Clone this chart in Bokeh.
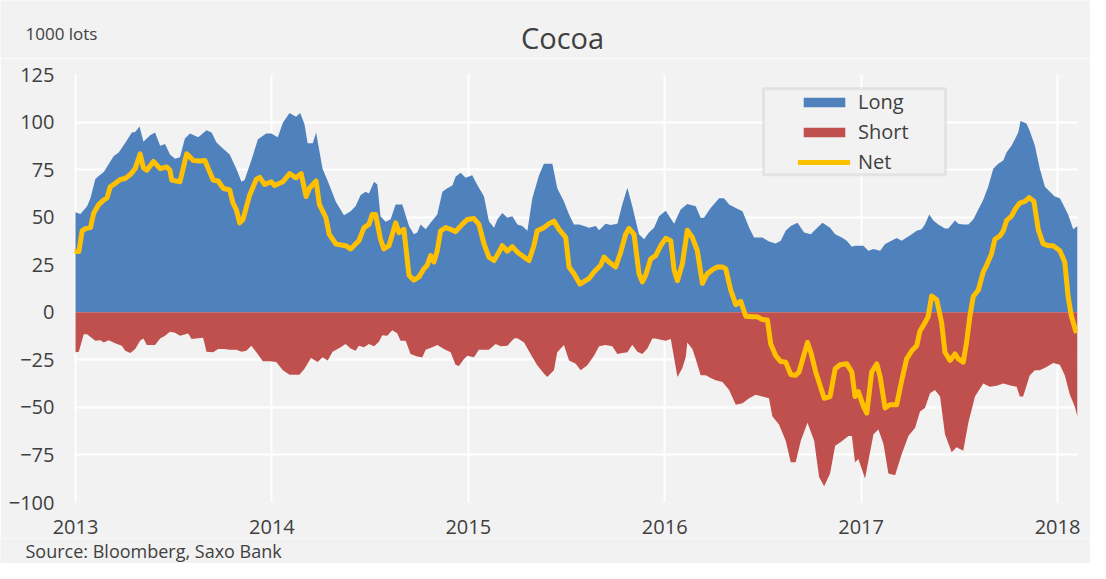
import numpy as np
from bokeh.plotting import figure
from bokeh.layouts import column
from bokeh.models import Range1d, Legend, LegendItem, BoxAnnotation, FixedTicker
from bokeh.core.properties import value
from bokeh.embed import file_html
from bokeh.resources import INLINE

# ---- data (years after 2013.0, values in 1000 lots) ----
long_t = [0.000, 0.025, 0.059, 0.076, 0.101, 0.118, 0.144, 0.194, 0.220, 0.253,
          0.287, 0.304, 0.326, 0.346, 0.380, 0.405, 0.431, 0.456, 0.481, 0.507,
          0.532, 0.557, 0.583, 0.625, 0.667, 0.693, 0.718, 0.752, 0.785, 0.819,
          0.845, 0.861, 0.895, 0.929, 0.971, 0.997, 1.030, 1.056, 1.090, 1.123,
          1.144, 1.166, 1.182, 1.208, 1.225, 1.258, 1.292, 1.326,
          1.367, 1.401, 1.426, 1.452, 1.477, 1.494, 1.520, 1.537, 1.553, 1.579,
          1.604, 1.630, 1.664, 1.698, 1.723, 1.740, 1.757, 1.783, 1.808, 1.842,
          1.868, 1.893, 1.919, 1.935, 1.961, 1.986, 2.020, 2.046, 2.080, 2.105,
          2.131, 2.148, 2.173, 2.199, 2.224, 2.250, 2.275, 2.301, 2.326, 2.360,
          2.385, 2.428, 2.453, 2.487, 2.513, 2.538, 2.564, 2.589,
          2.615, 2.649, 2.666, 2.699, 2.725, 2.759, 2.784, 2.810, 2.835, 2.869,
          2.895, 2.920, 2.946, 2.971, 3.005, 3.048, 3.081, 3.115, 3.158, 3.183,
          3.200, 3.234, 3.277, 3.302, 3.328, 3.362, 3.396, 3.430, 3.455, 3.497,
          3.531, 3.565, 3.591, 3.616, 3.642, 3.676, 3.710, 3.744, 3.769, 3.803,
          3.842, 3.868, 3.902, 3.927, 3.953, 3.969, 4.012, 4.037, 4.063, 4.097,
          4.122, 4.147, 4.181, 4.207, 4.232, 4.258, 4.283, 4.308, 4.325, 4.347,
          4.368, 4.393, 4.427, 4.444, 4.461, 4.478, 4.495, 4.520, 4.546, 4.571,
          4.588, 4.622, 4.647, 4.673, 4.698, 4.724, 4.741, 4.766, 4.783, 4.800,
          4.812, 4.842, 4.859, 4.885, 4.910, 4.936, 4.961, 4.986, 5.012, 5.029,
          5.054, 5.080, 5.102]
long_v = [52.6, 51.7, 55.7, 60, 70, 71.7, 73.8, 82, 84, 89,
          94.5, 94.8, 97.6, 89.6, 93, 94.5, 87.6, 88.4, 83, 80.7,
          81.5, 91.4, 94, 92, 95.7, 94.5, 89.3, 86, 83, 75.5,
          68.6, 69.5, 79.8, 91, 94, 94, 92, 99.7, 104.8, 102.8,
          104.8, 98.8, 88.8, 88.8, 94.5, 75.5, 67, 58,
          51, 53.1, 55.7, 61.7, 63.4, 62.5, 68.6, 67.2, 50.5, 47.6,
          48.8, 56.6, 56.6, 45.3, 41, 41.9, 46.2, 43.6, 47, 51.4,
          63.4, 65.2, 66.6, 71.2, 73.4, 70.7, 72, 66.9, 60.9, 47.9,
          44.5, 48.8, 52.2, 49.7, 50.5, 46.2, 45.3, 42.8, 60, 72,
          78.1, 78.1, 65.2, 58.3, 51.4, 46.2, 46.2, 45.3,
          44.5, 45.3, 43.1, 46.6, 45.9, 46.6, 56.6, 65.5, 55.7, 41,
          38.4, 41.9, 44.5, 50.5, 53.4, 46.6, 54, 56.9, 55.7, 49.7,
          49.7, 54.8, 60, 60, 56.6, 54.8, 53.1, 44.5, 39.3, 39.3,
          37.2, 36.2, 37.6, 42.8, 45.3, 47, 41.9, 41, 43.6, 47,
          44.5, 41, 39.3, 37.6, 34.5, 35, 35, 32.4, 33.3, 32.4,
          35.9, 37.2, 39, 37.6, 39.3, 41, 42.8, 43.6, 46.2, 51.4,
          48.3, 46.2, 44, 44, 46.2, 48.3, 46.6, 46.2, 46.2, 48.8,
          52.2, 59.1, 66, 75.5, 78.1, 79.8, 84.1, 87.6, 91, 94.5,
          100.5, 99.3, 95.3, 87.6, 75.5, 66, 63.4, 60.9, 60, 56.6,
          51.4, 43.6, 45.3]

short_t = [0.000, 0.017, 0.042, 0.059, 0.101, 0.127, 0.144, 0.169, 0.211, 0.236,
           0.253, 0.279, 0.304, 0.329, 0.346, 0.363, 0.405, 0.431, 0.456, 0.481,
           0.507, 0.532, 0.574, 0.591, 0.625, 0.650, 0.667, 0.701, 0.726, 0.760,
           0.785, 0.819, 0.845, 0.870, 0.895, 0.921, 0.954, 0.988, 1.022, 1.056,
           1.090, 1.140, 1.166, 1.199, 1.233, 1.258, 1.284, 1.309,
           1.350, 1.375, 1.401, 1.426, 1.443, 1.469, 1.494, 1.520, 1.545, 1.562,
           1.587, 1.613, 1.638, 1.655, 1.681, 1.706, 1.740, 1.766, 1.783, 1.817,
           1.842, 1.876, 1.910, 1.935, 1.952, 1.978, 1.995, 2.029, 2.054, 2.105,
           2.139, 2.165, 2.199, 2.233, 2.250, 2.284, 2.317, 2.351, 2.385, 2.402,
           2.436, 2.453, 2.487, 2.513, 2.547, 2.572, 2.606,
           2.640, 2.666, 2.699, 2.733, 2.759, 2.784, 2.810, 2.835, 2.861, 2.886,
           2.912, 2.937, 2.954, 2.980, 3.005, 3.031, 3.065, 3.090, 3.107, 3.115,
           3.141, 3.158, 3.183, 3.209, 3.234, 3.260, 3.294, 3.328, 3.362, 3.396,
           3.430, 3.463, 3.497, 3.531, 3.548, 3.582, 3.616, 3.642, 3.667, 3.693,
           3.727, 3.761, 3.786, 3.812,
           3.842, 3.868, 3.893, 3.936, 3.953, 3.969, 3.986, 4.020, 4.063, 4.088,
           4.114, 4.139, 4.173, 4.207, 4.241, 4.275, 4.300, 4.325, 4.351, 4.376,
           4.402, 4.427, 4.461, 4.486, 4.520, 4.546, 4.580, 4.622, 4.656, 4.690,
           4.724, 4.766, 4.792, 4.808, 4.825, 4.859, 4.885, 4.910, 4.944, 4.978,
           5.012, 5.037, 5.063, 5.088, 5.102]
short_v = [-21, -20.7, -11.6, -11.6, -15, -14.7, -15.9, -14.7, -16.7, -17.6,
           -20.2, -21.4, -19.3, -15, -13.8, -17.2, -17.2, -13.8, -12.4, -10.3,
           -10.7, -12.4, -11.2, -14.1, -13.6, -13.4, -20.7, -21, -19.3, -19.3,
           -19.7, -19.7, -20.7, -20.2, -17.6, -21, -25.7, -25.7, -26.2, -30.5,
           -32.8, -32.8, -29.7, -24, -26.2, -23.6, -25.3, -20.7,
           -18.4, -16.7, -19, -20.2, -17.6, -18.4, -16.7, -17.9, -15.5, -12.1,
           -12.4, -9.5, -11, -15, -15, -21.9, -23.3, -23.6, -19.7, -18.4,
           -17.2, -19.3, -21, -27.6, -28.3, -24.5, -22.8, -23.6, -19.7, -19.7,
           -16.7, -17.9, -17.6, -13.8, -13.6, -15.9, -21.9, -27.9, -32.2, -34,
           -30.5, -21, -17.2, -25.3, -27.1, -30.5, -27.9,
           -22.8, -17.9, -17.2, -17.9, -21.9, -21.4, -21, -17.1, -20.7, -21.9,
           -19, -13.8, -13.8, -14.5, -15, -14.1, -34, -29.3, -23.6, -15.9,
           -19.3, -24.5, -33.1, -33.1, -34.5, -35.7, -36.6, -40.9, -48.6, -47.8,
           -45.2, -43.4, -44.3, -45.2, -54.7, -59, -67.6, -78.8, -78.8, -67.6,
           -58.1, -67.6, -86.6, -91.4,
           -84.8, -70.2, -68.4, -65, -65, -78.8, -77.1, -87.4, -64.1, -61.6,
           -69.3, -84.8, -85.7, -74.5, -65, -60.7, -52.1, -50.3, -42.6, -40.9,
           -44.3, -64.1, -73.6, -71, -72.8, -58.1, -44.3, -37.4, -39.1, -38.6,
           -37.4, -38.6, -39.1, -44.3, -44.3, -33.1, -30.5, -30.5, -28.8, -26.6,
           -27.6, -33.1, -43.4, -49.5, -55.2]

net_t = [0.000, 0.017, 0.034, 0.051, 0.076, 0.093, 0.118, 0.144, 0.160, 0.177,
         0.203, 0.228, 0.253, 0.279, 0.304, 0.329, 0.346, 0.363, 0.397, 0.431,
         0.465, 0.481, 0.490, 0.532, 0.566, 0.600, 0.633, 0.659, 0.676, 0.701,
         0.726, 0.752, 0.785, 0.802, 0.819, 0.836, 0.853, 0.887, 0.921, 0.938,
         0.963, 0.997, 1.014, 1.056, 1.090, 1.123, 1.149, 1.174, 1.191, 1.225,
         1.242, 1.275, 1.292, 1.326,
         1.375, 1.401, 1.426, 1.443, 1.469, 1.494, 1.511, 1.528, 1.553, 1.570,
         1.596, 1.630, 1.647, 1.672, 1.698, 1.723, 1.749, 1.774, 1.791, 1.808,
         1.825, 1.842, 1.859, 1.885, 1.910, 1.935, 1.969, 1.995, 2.029, 2.054,
         2.080, 2.105, 2.131, 2.156, 2.173, 2.199, 2.224, 2.250, 2.284, 2.309,
         2.334, 2.351, 2.385, 2.411, 2.436, 2.462, 2.496, 2.513, 2.538, 2.569,
         2.615, 2.640, 2.674, 2.691, 2.716, 2.750, 2.776, 2.801, 2.818, 2.844,
         2.869, 2.886, 2.903, 2.929, 2.954, 2.980, 3.005, 3.031, 3.048, 3.065,
         3.090, 3.115, 3.141, 3.166, 3.192, 3.217, 3.243, 3.268, 3.294, 3.311,
         3.336, 3.362, 3.387, 3.413, 3.447, 3.472, 3.497, 3.523, 3.540, 3.565,
         3.591, 3.616, 3.642, 3.667, 3.684, 3.727, 3.744, 3.769, 3.812,
         3.842, 3.868, 3.893, 3.927, 3.953, 3.969, 3.986, 4.012, 4.029, 4.054,
         4.080, 4.097, 4.122, 4.147, 4.181, 4.207, 4.232, 4.258, 4.283, 4.300,
         4.325, 4.342, 4.359, 4.385, 4.410, 4.427, 4.453, 4.478, 4.495, 4.520,
         4.537, 4.554, 4.571, 4.597, 4.622, 4.639, 4.664, 4.681, 4.707, 4.724,
         4.741, 4.766, 4.783, 4.808, 4.834, 4.856, 4.880, 4.902, 4.927, 4.953,
         4.978, 5.012, 5.037, 5.054, 5.071, 5.093]
net_v = [31.9, 31.9, 42.8, 44, 44.5, 52.2, 56.6, 59.1, 60, 66,
         67.8, 69.8, 70.3, 72.4, 75.5, 83.3, 75.9, 74.7, 79.3, 75.5,
         76.4, 74.7, 69.5, 68.6, 83.3, 79.8, 79.5, 79.8, 75.5, 69.5,
         69, 65.2, 64.3, 57.4, 54, 47, 48.8, 61.7, 70, 70.9,
         67.2, 68.6, 66.6, 68.6, 72.9, 70.7, 72.9, 60.9, 65.2, 69,
         56.6, 49.7, 41, 35.9,
         35, 33.3, 35.9, 37.6, 44.5, 46.2, 51.4, 51.4, 38.4, 33.3,
         35, 47, 41.9, 43.6, 19.5, 16.9, 18.6, 22.9, 24.7, 29.8,
         26.4, 32.4, 42.8, 44.5, 43.6, 42.4, 46.2, 48.8, 49.3, 46.2,
         35.9, 29, 27.2, 31.6, 35, 32.1, 34.5, 31.6, 29, 27.2,
         35, 42.8, 44.5, 46.6, 47.9, 43.6, 39.3, 23.8, 20.3, 14.8,
         17.8, 21.2, 24.7, 29, 26.4, 23.8, 31.6, 41, 44.1, 41,
         20.3, 16, 19.5, 28.1, 29.8, 35, 38.9, 37.6, 22.1, 16.6,
         25.5, 43.1, 39.3, 32.4, 15.2, 20.3, 22.4, 23.8, 23.8, 22.9,
         11.7, 4, 5.7, -2.1, -2.4, -2.4, -3.8, -4.1, -16.7, -22.8,
         -25.9, -26.2, -32.8, -33.1, -31.4, -15.9, -21, -31.4, -45.2,
         -44.3, -29.7, -27.6, -27.1, -31.4, -44.3, -41.7, -49.5, -53, -31.4,
         -27.1, -34, -50.3, -48.6, -48.6, -35.7, -24.5, -20.2, -17.6, -9.8,
         -5.5, -2.1, 8.6, 6.6, -5.5, -21, -25.3, -21.9, -24.5, -26.2,
         -15.9, -2.1, 8.3, 11.7, 21.2, 24.7, 30.7, 38.4, 40.2, 42.8,
         48.3, 50.5, 54, 57.4, 58.3, 60.3, 58.3, 43.6, 35.9, 35,
         35, 32.4, 26.4, 8.3, -2.1, -9.8]

start_year = 2013
year_ticks = [2013, 2014, 2015, 2016, 2017, 2018]
value_ticks = [-100, -75, -50, -25, 0, 25, 50, 75, 100, 125]
series_names = ["Long", "Short", "Net"]
title_text = "Cocoa"
unit_text = "1000 lots"
source_text = "Source: Bloomberg, Saxo Bank"

# ---- style ----
W = 1090
BG = "#F2F2F2"
TXT = "#404040"
FONT = "Open Sans"
C_LONG, C_SHORT, C_NET = "#4F81BD", "#C0504D", "#FFC000"
PX_PER_YEAR = 196.4
HEAD_H, FOOT_H = 58, 25
TOP, FRAME_H, BOTTOM = 16, 428, 36


def text_strip(height):
    f = figure(width=W, height=height, output_backend="svg", toolbar_location=None,
               x_range=Range1d(0, W), y_range=Range1d(height, 0),
               x_axis_type=None, y_axis_type=None, min_border=0, frame_align=False,
               background_fill_color=BG, border_fill_color=BG, outline_line_color=None)
    return f


# header: title and unit
head = text_strip(HEAD_H)
head.text(x=[562], y=[37], text=[title_text], text_font=value(FONT),
          text_font_size=value("29px"), text_color=TXT, text_align="center",
          text_baseline="middle")
head.text(x=[25], y=[33], text=[unit_text], text_font=value(FONT),
          text_font_size=value("17px"), text_color=TXT, text_align="left",
          text_baseline="middle")

# main chart
p = figure(width=W, height=TOP + FRAME_H + BOTTOM, output_backend="svg", toolbar_location=None,
           x_range=Range1d(start_year - 1 / PX_PER_YEAR, start_year + 1002 / PX_PER_YEAR),
           y_range=Range1d(-100, 125), frame_align=False,
           min_border_left=74, min_border_right=W - 1077, min_border_top=TOP,
           min_border_bottom=BOTTOM,
           background_fill_color=BG, border_fill_color=BG, outline_line_color=None)

lx = start_year + np.array(long_t)
sx = start_year + np.array(short_t)
nx = start_year + np.array(net_t)

r_long = p.varea(x=lx, y1=np.zeros(len(lx)), y2=np.array(long_v), fill_color=C_LONG)
r_short = p.varea(x=sx, y1=np.zeros(len(sx)), y2=np.array(short_v), fill_color=C_SHORT)
r_net = p.line(x=nx, y=np.array(net_v), line_color=C_NET, line_width=5,
               line_join="round", line_cap="round")

for ax in (p.xaxis[0], p.yaxis[0]):
    ax.axis_line_color = None
    ax.major_tick_line_color = None
    ax.minor_tick_line_color = None
    ax.major_label_text_font = FONT
    ax.major_label_text_font_size = "20px"
    ax.major_label_text_color = TXT
p.xaxis.ticker = FixedTicker(ticks=year_ticks)
p.yaxis.ticker = FixedTicker(ticks=value_ticks)
p.xaxis.major_label_standoff = 11
p.yaxis.major_label_standoff = 14

p.xgrid.ticker = FixedTicker(ticks=year_ticks)
p.ygrid.ticker = FixedTicker(ticks=value_ticks)
for g in (p.xgrid[0], p.ygrid[0]):
    g.grid_line_color = "white"
    g.grid_line_width = 2

# legend frame
box = BoxAnnotation(left=2016.503, right=2017.430, top=117.46, bottom=72.25,
                    fill_color=BG, fill_alpha=1.0, line_color="#BFBFBF", line_width=3)
p.add_layout(box)

legend = Legend(items=[LegendItem(label=series_names[0], renderers=[r_long]),
                       LegendItem(label=series_names[1], renderers=[r_short]),
                       LegendItem(label=series_names[2], renderers=[r_net])],
                location=(724, 327), orientation="vertical", padding=4, spacing=3, margin=0,
                glyph_width=52, glyph_height=12, label_height=20, label_standoff=8,
                label_text_font=FONT, label_text_font_size="20px", label_text_color=TXT,
                background_fill_alpha=0, border_line_color=None)
p.add_layout(legend)

# footer: source
foot = text_strip(FOOT_H)
foot.text(x=[25], y=[12], text=[source_text], text_font=value(FONT),
          text_font_size=value("18px"), text_color=TXT, text_align="left",
          text_baseline="middle")

layout = column(head, p, foot, spacing=0)
open("out.html", "w").write(file_html(layout, INLINE))
